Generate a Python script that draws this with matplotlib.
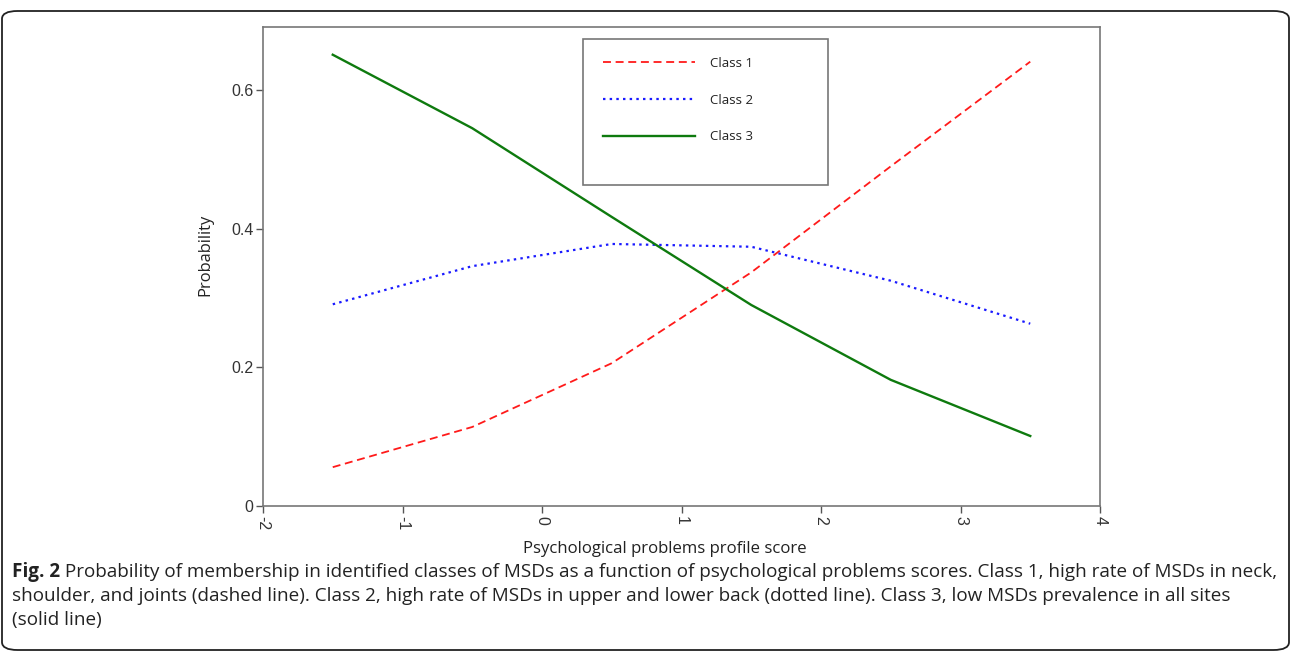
import matplotlib
matplotlib.use("Agg")
import matplotlib.pyplot as plt
from matplotlib.patches import FancyBboxPatch, Rectangle

# ---- data ----
scores = [-1.5, -0.5, 0.5, 1.5, 2.5, 3.5]
class1 = [0.056, 0.114, 0.206, 0.337, 0.490, 0.641]
class2 = [0.291, 0.346, 0.378, 0.374, 0.325, 0.263]
class3 = [0.651, 0.545, 0.417, 0.290, 0.182, 0.101]
series_labels = ["Class 1", "Class 2", "Class 3"]
xticks = [-2, -1, 0, 1, 2, 3, 4]
yticks = [0, 0.2, 0.4, 0.6]
ytick_labels = ["0", "0.2", "0.4", "0.6"]
xlabel = "Psychological problems profile score"
ylabel = "Probability"
caption_bold = "Fig. 2"
caption_lines = [
    " Probability of membership in identified classes of MSDs as a function of psychological problems scores. Class 1, high rate of MSDs in neck,",
    "shoulder, and joints (dashed line). Class 2, high rate of MSDs in upper and lower back (dotted line). Class 3, low MSDs prevalence in all sites",
    "(solid line)",
]

cap_font = "Open Sans"
tick_font = "Liberation Sans"
lab_font = "Open Sans"

W, H = 1292, 653
AX_L, AX_R, AX_T, AX_B = 263, 1100, 27, 506
fig = plt.figure(figsize=(W / 100, H / 100), dpi=100)

# outer rounded frame
frame = FancyBboxPatch((2 / W, 3 / H), (W - 5) / W, (H - 14) / H,
                       boxstyle="round,pad=0,rounding_size=0.012",
                       transform=fig.transFigure, fill=False,
                       edgecolor="#222222", linewidth=1.3)
fig.patches.append(frame)

ax = fig.add_axes([AX_L / W, 1 - AX_B / H, (AX_R - AX_L) / W, (AX_B - AX_T) / H])
ax.plot(scores, class1, color="#ff1a1a", linestyle=(0, (4.4, 2.6)), linewidth=1.3, label=series_labels[0])
ax.plot(scores, class2, color="#1a1aff", linestyle=(0, (1.1, 1.9)), linewidth=1.6, label=series_labels[1])
ax.plot(scores, class3, color="#0e7a0e", linestyle="-", linewidth=1.7, label=series_labels[2])

ax.set_xlim(-2, 4)
ax.set_ylim(0, 0.691)
ax.set_xticks(xticks)
ax.set_xticklabels([str(v) for v in xticks], rotation=-90, fontsize=11.5, family=tick_font, color="#333333")
ax.set_yticks(yticks)
ax.set_yticklabels(ytick_labels, fontsize=11.5, family=tick_font, color="#333333")
ax.tick_params(axis="both", direction="out", length=5, width=1, color="#555555", pad=2)
for sp in ax.spines.values():
    sp.set_color("#777777")
    sp.set_linewidth(1.2)

def ax_x(px):
    return (px - AX_L) / (AX_R - AX_L)

def ax_y(py):
    return (AX_B - py) / (AX_B - AX_T)

# legend box
ax.add_patch(Rectangle((ax_x(583), ax_y(185)), ax_x(828) - ax_x(583), ax_y(39) - ax_y(185),
                       transform=ax.transAxes, fill=False, edgecolor="#777777", linewidth=1.2, zorder=5))
leg = ax.legend(loc="upper left", bbox_to_anchor=(ax_x(603), ax_y(57)),
                frameon=False, handlelength=7.0, handletextpad=1.1, labelspacing=1.8,
                prop={"family": lab_font, "size": 9.5}, borderpad=0, borderaxespad=0)
for t in leg.get_texts():
    t.set_color("#222222")

fig.canvas.draw()
r = fig.canvas.get_renderer()

def fit(text, target_px, horizontal=True):
    fig.canvas.draw()
    bb = text.get_window_extent(renderer=r)
    cur = bb.width if horizontal else bb.height
    text.set_fontsize(text.get_fontsize() * target_px / cur)

# axis labels as figure text at measured spots
xl = fig.text(665 / W, 1 - 549 / H, xlabel, fontsize=12, family=lab_font, color="#222222",
              ha="center", va="center")
fit(xl, 282)
yl = fig.text(205 / W, 1 - 255 / H, ylabel, fontsize=12, family=lab_font, color="#222222",
              ha="center", va="center", rotation=90)
fit(yl, 82, horizontal=False)

# caption
size = 11.5
x0 = 12
tb = fig.text(x0 / W, 1 - 577 / H, caption_bold, fontsize=size, family=cap_font, weight="bold",
              color="#222222", va="baseline")
t1 = fig.text(x0 / W, 1 - 577 / H, caption_lines[0], fontsize=size, family=cap_font,
              color="#222222", va="baseline")
fig.canvas.draw()
bw = tb.get_window_extent(renderer=r).width
w1 = t1.get_window_extent(renderer=r).width + bw
size2 = size * (1274 - x0) / w1
tb.set_fontsize(size2)
t1.set_fontsize(size2)
fig.canvas.draw()
bw = tb.get_window_extent(renderer=r).width
t1.set_x((x0 + bw) / W)
fig.text(x0 / W, 1 - 601 / H, caption_lines[1], fontsize=size2, family=cap_font, color="#222222", va="baseline")
fig.text(x0 / W, 1 - 625 / H, caption_lines[2], fontsize=size2, family=cap_font, color="#222222", va="baseline")

fig.savefig("out.png", dpi=100)
